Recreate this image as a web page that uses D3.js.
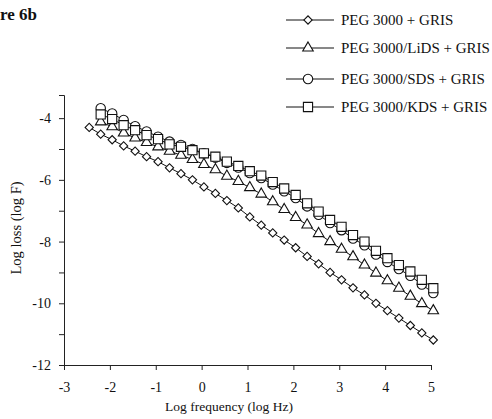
<!DOCTYPE html>
<html>
<head>
<meta charset="utf-8">
<script src="https://cdn.jsdelivr.net/npm/d3@7"></script>
<style>
  html, body { margin: 0; padding: 0; background: #fff; }
  svg { display: block; }
  text { font-family: "Liberation Serif", "Times New Roman", serif; fill: #111; }
</style>
</head>
<body>
<svg id="chart" width="492" height="419"></svg>
<script>
// ---- data ----
const freqPeg = [-2.45,-2.2,-1.95,-1.7,-1.45,-1.2,-0.95,-0.7,-0.45,-0.2,0.05,0.3,0.55,0.8,1.05,1.3,1.55,1.8,2.05,2.3,2.55,2.8,3.05,3.3,3.55,3.8,4.05,4.3,4.55,4.8,5.05];
const freqMix = [-2.2,-1.95,-1.7,-1.45,-1.2,-0.95,-0.7,-0.45,-0.2,0.05,0.3,0.55,0.8,1.05,1.3,1.55,1.8,2.05,2.3,2.55,2.8,3.05,3.3,3.55,3.8,4.05,4.3,4.55,4.8,5.05];

const pegGris  = [-4.30,-4.52,-4.70,-4.90,-5.07,-5.25,-5.41,-5.61,-5.80,-6.00,-6.23,-6.44,-6.67,-6.91,-7.20,-7.47,-7.72,-7.95,-8.20,-8.48,-8.72,-9.00,-9.24,-9.50,-9.73,-10.00,-10.24,-10.48,-10.72,-10.96,-11.19];
const lidsGris = [-4.12,-4.28,-4.48,-4.64,-4.79,-4.93,-5.07,-5.20,-5.34,-5.50,-5.67,-5.88,-6.05,-6.25,-6.46,-6.71,-6.96,-7.22,-7.46,-7.74,-8.00,-8.25,-8.49,-8.76,-9.02,-9.27,-9.51,-9.77,-10.01,-10.24];
const sdsGris  = [-3.68,-3.85,-4.06,-4.26,-4.43,-4.60,-4.76,-4.87,-5.00,-5.14,-5.28,-5.45,-5.60,-5.78,-5.94,-6.15,-6.37,-6.59,-6.86,-7.13,-7.40,-7.63,-7.90,-8.12,-8.42,-8.66,-8.89,-9.11,-9.39,-9.67];
const kdsGris  = [-3.88,-4.03,-4.23,-4.39,-4.55,-4.68,-4.85,-4.93,-5.04,-5.14,-5.25,-5.41,-5.55,-5.72,-5.86,-6.07,-6.28,-6.49,-6.76,-7.03,-7.30,-7.52,-7.79,-8.00,-8.30,-8.54,-8.76,-8.97,-9.24,-9.51];

const seriesNames = ["PEG 3000 + GRIS", "PEG 3000/LiDS + GRIS", "PEG 3000/SDS + GRIS", "PEG 3000/KDS + GRIS"];
const xTicks = [-3,-2,-1,0,1,2,3,4,5];
const yTicksMajor = [-4,-6,-8,-10,-12];
const yTicksMinor = [-5,-7,-9,-11];
const titleText = "re 6b";
const xTitle = "Log frequency (log Hz)";
const yTitle = "Log loss (log F)";

// ---- layout ----
const svg = d3.select("#chart");
const x = d3.scaleLinear().domain([-3, 5]).range([64, 431]);
const y = d3.scaleLinear().domain([-12, -3.25]).range([365, 95]);

// title
svg.append("text").attr("x", 0).attr("y", 20)
  .style("font-size", "17px").style("font-weight", "bold").text(titleText);

// axes
const gx = svg.append("g").attr("transform", `translate(0,${y(-12)})`)
  .call(d3.axisBottom(x).tickValues(xTicks).tickSize(5).tickSizeOuter(0).tickPadding(12)
        .tickFormat(d => d));
gx.selectAll("text").style("font-size", "14px").style("font-family", "Liberation Serif");

const gy = svg.append("g").attr("transform", `translate(${x(-3)},0)`)
  .call(d3.axisLeft(y).tickValues(yTicksMajor).tickSize(5).tickSizeOuter(5).tickPadding(8)
        .tickFormat(d => d));
gy.selectAll("text").style("font-size", "14px").style("font-family", "Liberation Serif");
svg.append("g").attr("transform", `translate(${x(-3)},0)`)
  .call(d3.axisLeft(y).tickValues(yTicksMinor).tickSize(5).tickSizeOuter(0).tickFormat(""))
  .select(".domain").remove();
svg.selectAll(".domain, .tick line").attr("stroke", "#222").attr("stroke-width", 1);

// axis titles
svg.append("text").attr("x", 229).attr("y", 411)
  .attr("text-anchor", "middle").style("font-size", "13.5px").text(xTitle);
svg.append("text").attr("transform", `translate(21,${(y(-12) + y(-3.25)) / 2 - 2}) rotate(-90)`)
  .attr("text-anchor", "middle").style("font-size", "14.5px").text(yTitle);

// ---- series ----
const sym = {
  diamond: d3.symbol().type(d3.symbolSquare).size(34),
  triangle: d3.symbol().type(d3.symbolTriangle).size(48),
  circle: d3.symbol().type(d3.symbolCircle).size(70),
  square: d3.symbol().type(d3.symbolSquare).size(84)
};
const series = [
  { name: seriesNames[0], xs: freqPeg, ys: pegGris,  shape: "diamond", rot: 45 },
  { name: seriesNames[1], xs: freqMix, ys: lidsGris, shape: "triangle", rot: 0 },
  { name: seriesNames[2], xs: freqMix, ys: sdsGris,  shape: "circle", rot: 0 },
  { name: seriesNames[3], xs: freqMix, ys: kdsGris,  shape: "square", rot: 0 }
];
const line = d3.line().x(d => x(d[0])).y(d => y(d[1]));

series.forEach(s => {
  const pts = s.xs.map((v, i) => [v, s.ys[i]]);
  const g = svg.append("g");
  g.append("path").attr("d", line(pts)).attr("fill", "none")
    .attr("stroke", "#111").attr("stroke-width", 1);
  g.selectAll("path.m").data(pts).join("path").attr("class", "m")
    .attr("d", sym[s.shape]())
    .attr("transform", d => `translate(${x(d[0])},${y(d[1])}) rotate(${s.rot})`)
    .attr("fill", "#fff").attr("stroke", "#111").attr("stroke-width", 1.1);
});

// ---- legend ----
const legY = [20, 48, 79, 107];
const leg = svg.append("g");
series.forEach((s, i) => {
  const row = leg.append("g").attr("transform", `translate(0,${legY[i]})`);
  row.append("line").attr("x1", 286).attr("x2", 334).attr("y1", 0).attr("y2", 0)
    .attr("stroke", "#111").attr("stroke-width", 1);
  row.append("path").attr("d", sym[s.shape]())
    .attr("transform", `translate(308,0) rotate(${s.rot})`)
    .attr("fill", "#fff").attr("stroke", "#111").attr("stroke-width", 1.1);
  row.append("text").attr("x", 341).attr("y", 5).style("font-size", "15px").text(s.name);
});
</script>
</body>
</html>
